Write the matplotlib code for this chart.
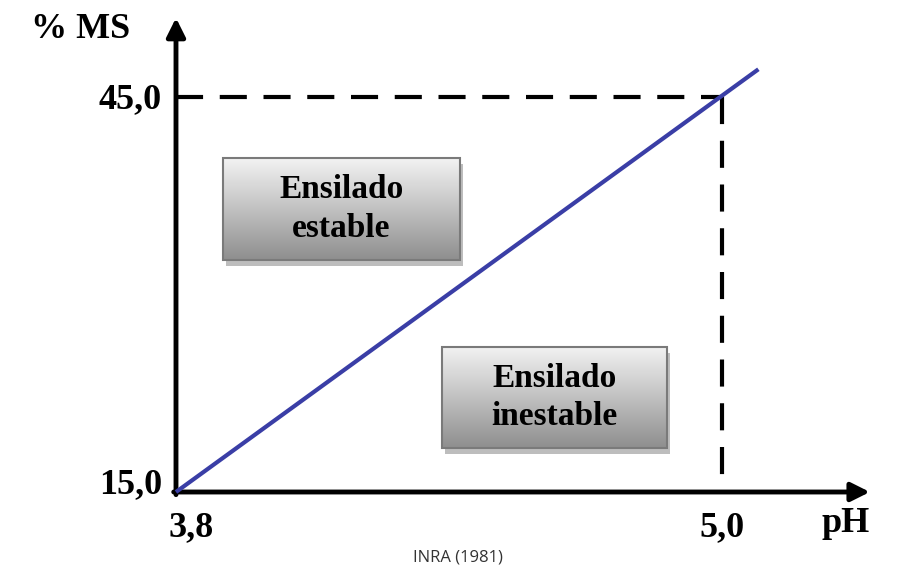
import numpy as np
import matplotlib.pyplot as plt
from matplotlib.patches import Rectangle

# data
ph_line = [3.8, 5.08]
ms_line = [15.0, 47.1]
ph_limit = 5.0
ms_limit = 45.0
x_ticks = [3.8, 5.0]
x_tick_labels = ["3,8", "5,0"]
y_ticks = [15.0, 45.0]
y_tick_labels = ["15,0", "45,0"]
box_labels = ["Ensilado\nestable", "Ensilado\ninestable"]

SERIF = "Liberation Serif"

W, H = 917, 567
fig = plt.figure(figsize=(W / 100, H / 100), dpi=100)
ax = fig.add_axes([0, 0, 1, 1])
ax.set_xlim(3.4132, 5.4286)
ax.set_ylim(9.305, 52.36)
ax.axis("off")

x0, y0 = x_ticks[0], y_ticks[0]

# axes with arrow heads
arrow = dict(arrowstyle="-|>", lw=3.5, color="black", mutation_scale=28,
             shrinkA=0, shrinkB=0)
ax.annotate("", xy=(x0, 51.0), xytext=(x0, y0 - 0.2), arrowprops=arrow)
ax.annotate("", xy=(5.325, y0), xytext=(x0 - 0.005, y0), arrowprops=arrow)

# dashed threshold lines
dash = dict(color="black", lw=3.0, dashes=(6.5, 4.0), solid_capstyle="butt")
ax.plot([x0, ph_limit], [ms_limit, ms_limit], **dash)
ax.plot([ph_limit, ph_limit], [ms_limit, y0], **dash)

# limit line
ax.plot(ph_line, ms_line, color="#3a3ea6", lw=3.0, solid_capstyle="butt", zorder=5)

# tick labels
for v, s in zip(x_ticks, x_tick_labels):
    ax.annotate(s, (v, y0), xytext=(0 if v != x0 else 11, -14), textcoords="offset points",
                ha="center", va="top", fontsize=26, fontweight="bold", family=SERIF)
for v, s in zip(y_ticks, y_tick_labels):
    ax.annotate(s, (x0, v), xytext=(-10, -2 if v != y0 else 5), textcoords="offset points",
                ha="right", va="center", fontsize=26, fontweight="bold", family=SERIF)
ax.text(81 / W, 1 - 30 / H, "% MS", transform=ax.transAxes, ha="center", va="center",
        fontsize=26, fontweight="bold", family=SERIF)
ax.text(846 / W, 1 - 524 / H, "pH", transform=ax.transAxes, ha="center", va="center",
        fontsize=26, fontweight="bold", family=SERIF)

# gradient boxes (x0, x1, y0, y1 in data units)
boxes = [(3.903, 4.424, 32.62, 40.36), (4.385, 4.879, 18.34, 26.01)]
grad = np.linspace(0.95, 0.56, 200).reshape(-1, 1)
for (bx0, bx1, by0, by1), label in zip(boxes, box_labels):
    ax.add_patch(Rectangle((bx0 + 0.006, by0 - 0.45), bx1 - bx0, by1 - by0,
                           facecolor="#bdbdbd", edgecolor="none", zorder=2))
    ax.imshow(grad, cmap="gray", vmin=0, vmax=1, aspect="auto",
              extent=(bx0, bx1, by0, by1), zorder=3)
    ax.add_patch(Rectangle((bx0, by0), bx1 - bx0, by1 - by0, facecolor="none",
                           edgecolor="#7a7a7a", lw=1.5, zorder=4))
    ax.text((bx0 + bx1) / 2, (by0 + by1) / 2, label, ha="center", va="center",
            fontsize=24, fontweight="bold", family=SERIF, linespacing=1.3, zorder=6)

ax.set_xlim(3.4132, 5.4286)
ax.set_ylim(9.305, 52.36)

fig.text(458 / W, 1 - 557 / H, "INRA (1981)", ha="center", va="center",
         fontsize=12, color="#333333", family="Open Sans")

fig.savefig("out.png", dpi=100)
